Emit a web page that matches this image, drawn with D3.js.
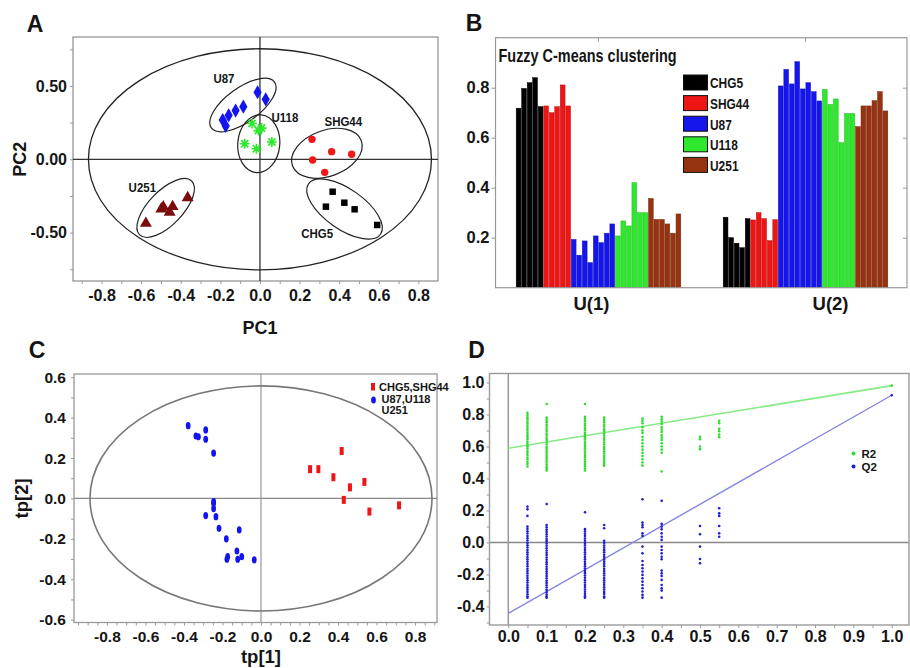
<!DOCTYPE html>
<html><head><meta charset="utf-8">
<script src="https://cdn.jsdelivr.net/npm/d3@7"></script>
<style>
body{margin:0;background:#fff}
svg{display:block}
text{font-family:"Liberation Sans",Arial,Helvetica,sans-serif;font-weight:bold;fill:#151515}
</style>
</head><body>
<svg id="c" width="910" height="668"></svg>
<script>
// ================= DATA =================
// Panel A : PCA scores (PC1, PC2)
const pcaU87   = [[-0.188,0.268],[-0.173,0.227],[-0.158,0.300],[-0.123,0.332],[-0.084,0.359],[-0.012,0.457],[0.029,0.409]];
const pcaU118  = [[-0.040,0.244],[-0.008,0.196],[0.008,0.213],[-0.077,0.106],[-0.018,0.072],[0.060,0.118]];
const pcaSHG44 = [[0.263,0.136],[0.362,0.052],[0.463,0.034],[0.266,-0.005],[0.327,-0.089]];
const pcaCHG5  = [[0.367,-0.221],[0.333,-0.323],[0.426,-0.296],[0.478,-0.341],[0.592,-0.448]];
const pcaU251  = [[-0.576,-0.437],[-0.498,-0.339],[-0.488,-0.325],[-0.456,-0.362],[-0.441,-0.323],[-0.365,-0.262]];
// cluster ellipses: name, centre (PC1,PC2), semi-axes (PC1 units), angle (deg)
const clusterNames   = ["U87","U118","SHG44","CHG5","U251"];
const clusterCentres = [[-0.086,0.370],[-0.006,0.106],[0.338,0.041],[0.427,-0.339],[-0.476,-0.332]];
const clusterAxes    = [[0.197,0.086],[0.146,0.106],[0.185,0.116],[0.222,0.101],[0.189,0.086]];
const clusterAngles  = [-36,-85,-20,35,-46];
const clusterLabelPos= [[-0.182,0.548],[0.126,0.282],[0.421,0.261],[0.289,-0.505],[-0.594,-0.191]];
const pcaHotelling = [0.866,0.754];
const pcaXTicks = [-0.9,-0.8,-0.7,-0.6,-0.5,-0.4,-0.3,-0.2,-0.1,0,0.1,0.2,0.3,0.4,0.5,0.6,0.7,0.8];
const pcaXLabels = [-0.8,-0.6,-0.4,-0.2,0,0.2,0.4,0.6,0.8];
const pcaYTicks = [-0.75,-0.5,-0.25,0,0.25,0.5,0.75];
const pcaYLabels = [-0.5,0,0.5];

// Panel B : fuzzy c-means memberships
const uCategories = ["U(1)","U(2)"];
const fcmGroups = ["CHG5","SHG44","U87","U118","U251"];
const u1CHG5  = [0.718,0.797,0.820,0.840,0.724];
const u2CHG5  = [0.282,0.200,0.178,0.160,0.276];
const u1SHG44 = [0.727,0.700,0.724,0.811,0.727];
const u2SHG44 = [0.271,0.300,0.276,0.188,0.272];
const u1U87   = [0.193,0.130,0.187,0.100,0.207,0.180,0.218,0.255];
const u2U87   = [0.807,0.873,0.815,0.904,0.795,0.820,0.784,0.747];
const u1U118  = [0.207,0.267,0.247,0.420,0.300,0.300];
const u2U118  = [0.793,0.733,0.755,0.580,0.697,0.697];
const u1U251  = [0.357,0.273,0.273,0.255,0.218,0.295];
const u2U251  = [0.644,0.727,0.727,0.748,0.784,0.707];
const fcmYTicks = [0.2,0.4,0.6,0.8];

// Panel C : PLS-DA scores tp[1], tp[2]
const plsRed  = [[0.419,0.235],[0.255,0.145],[0.298,0.145],[0.376,0.105],[0.537,0.082],[0.462,0.055],[0.430,-0.007],[0.563,-0.065],[0.717,-0.034]];
const plsBlue = [[-0.378,0.360],[-0.338,0.309],[-0.325,0.305],[-0.287,0.339],[-0.287,0.293],[-0.246,0.224],[-0.246,-0.016],[-0.246,-0.024],[-0.246,-0.050],[-0.287,-0.085],[-0.234,-0.090],[-0.218,-0.148],[-0.113,-0.156],[-0.180,-0.200],[-0.125,-0.260],[-0.173,-0.288],[-0.177,-0.301],[-0.121,-0.301],[-0.100,-0.288],[-0.035,-0.304]];
const plsHotelling = [0.888,0.557];
const plsLegend = ["CHG5,SHG44","U87,U118","U251"];

// Panel D : permutation test
const permX = [0.05,0.10,0.20,0.25,0.35,0.40,0.50,0.55,1.00];
const r2Cols = [
 [0.810,0.797,0.783,0.770,0.755,0.742,0.728,0.713,0.700,0.686,0.671,0.658,0.644,0.629,0.616,0.601,0.588,0.573,0.560,0.546,0.531,0.518,0.503,0.490,0.475],
 [0.865,0.780,0.766,0.752,0.737,0.724,0.709,0.696,0.681,0.668,0.653,0.640,0.625,0.612,0.597,0.584,0.569,0.556,0.541,0.528,0.513,0.500,0.485,0.472,0.460,0.450],
 [0.865,0.785,0.771,0.757,0.742,0.729,0.714,0.701,0.686,0.673,0.658,0.645,0.630,0.617,0.602,0.589,0.574,0.561,0.546,0.533,0.518,0.505,0.490,0.477,0.462,0.450],
 [0.780,0.766,0.752,0.737,0.724,0.709,0.696,0.681,0.668,0.653,0.640,0.625,0.612,0.597,0.584,0.569,0.556,0.541,0.528,0.513,0.500,0.490,0.480],
 [0.775,0.760,0.745,0.720,0.700,0.685,0.660,0.640,0.620,0.600,0.580,0.560,0.540,0.520,0.500,0.480],
 [0.785,0.770,0.755,0.740,0.720,0.705,0.690,0.670,0.655,0.640,0.620,0.600,0.580,0.560,0.443],
 [0.661,0.645,0.600,0.583],
 [0.761,0.745,0.711,0.695,0.675,0.658],
 [0.980]
];
const q2Cols = [
 [0.224,0.207,0.166,0.099,0.085,0.070,0.056,0.040,0.026,0.012,-0.003,-0.018,-0.032,-0.047,-0.062,-0.076,-0.091,-0.105,-0.120,-0.135,-0.149,-0.164,-0.178,-0.193,-0.208,-0.222,-0.237,-0.251,-0.266,-0.281,-0.295,-0.310,-0.324,-0.338,-0.345],
 [0.240,0.109,0.095,0.080,0.066,0.051,0.037,0.022,0.008,-0.007,-0.021,-0.036,-0.050,-0.065,-0.079,-0.094,-0.108,-0.123,-0.137,-0.152,-0.166,-0.181,-0.195,-0.210,-0.224,-0.239,-0.253,-0.268,-0.282,-0.297,-0.311,-0.326,-0.338,-0.345],
 [0.189,0.083,0.069,0.054,0.040,0.025,0.011,-0.004,-0.018,-0.033,-0.047,-0.062,-0.076,-0.091,-0.105,-0.120,-0.134,-0.149,-0.163,-0.178,-0.192,-0.207,-0.221,-0.236,-0.250,-0.265,-0.279,-0.294,-0.308,-0.323,-0.337,-0.345],
 [0.109,0.089,0.010,-0.004,-0.019,-0.033,-0.048,-0.062,-0.077,-0.091,-0.106,-0.120,-0.135,-0.149,-0.164,-0.178,-0.193,-0.207,-0.222,-0.236,-0.251,-0.265,-0.280,-0.294,-0.309,-0.323,-0.338,-0.345],
 [0.270,0.124,0.109,0.095,0.057,0.041,-0.026,-0.068,-0.116,-0.141,-0.161,-0.182,-0.203,-0.224,-0.245,-0.266,-0.286,-0.307,-0.328,-0.345],
 [0.260,0.116,0.099,0.082,0.057,0.036,0.016,-0.026,-0.047,-0.068,-0.089,-0.105,-0.176,-0.193,-0.209,-0.234,-0.266,-0.286,-0.301,-0.345],
 [0.103,0.051,-0.026,-0.103,-0.130],
 [0.214,0.182,0.166,0.103,0.057,0.036],
 [0.920]
];
const r2Fit = [[0,0.589],[1.0,0.980]];
const q2Fit = [[0,-0.443],[1.0,0.920]];
const permLegend = ["R2","Q2"];

// ================= DRAWING =================
const svg = d3.select("#c");
svg.append("rect").attr("width",910).attr("height",668).attr("fill","#fff");
const fmt1 = v => d3.format(".1f")(v).replace("\u2212","-");
const fmt2 = v => d3.format(".2f")(v).replace("\u2212","-");
const near = (a,b) => Math.abs(a-b) < 1e-6;
function condense(sel, f){
  sel.each(function(){ const w=this.getComputedTextLength(); d3.select(this).attr("textLength", w*f).attr("lengthAdjust","spacingAndGlyphs"); });
}
function styleAxis(g, size, tickColor){
  g.attr("font-family", null).attr("font-size", size);
  g.select(".domain").remove();
  g.selectAll(".tick line").attr("stroke", tickColor || "#999");
}
function letter(t, x, y){
  svg.append("text").attr("x",x).attr("y",y).attr("text-anchor","middle").attr("dominant-baseline","central").attr("font-size",23).text(t);
}

// ---------- Panel A ----------
{
  const L=73,T=37,R=438,B=281;
  const x = d3.scaleLinear().domain([-0.944,0.899]).range([L,R]);
  const y = d3.scaleLinear().domain([-0.830,0.834]).range([B,T]);
  const g = svg.append("g");
  const kx = x(1)-x(0), ky = y(0)-y(1);
  g.append("rect").attr("x",L).attr("y",T).attr("width",R-L).attr("height",B-T).attr("fill","none").attr("stroke","#777").attr("stroke-width",1);
  g.append("line").attr("x1",L).attr("x2",R).attr("y1",y(0)).attr("y2",y(0)).attr("stroke","#333").attr("stroke-width",1.3);
  g.append("line").attr("x1",x(0)).attr("x2",x(0)).attr("y1",T).attr("y2",B).attr("stroke","#333").attr("stroke-width",1.3);
  g.append("ellipse").attr("cx",x(0)).attr("cy",y(0)).attr("rx",pcaHotelling[0]*kx).attr("ry",pcaHotelling[1]*ky).attr("fill","none").attr("stroke","#222").attr("stroke-width",1.3);
  clusterNames.forEach((n,i)=>{
    g.append("ellipse").attr("cx",0).attr("cy",0).attr("rx",clusterAxes[i][0]*kx).attr("ry",clusterAxes[i][1]*kx)
     .attr("transform",`translate(${x(clusterCentres[i][0])},${y(clusterCentres[i][1])}) rotate(${clusterAngles[i]})`)
     .attr("fill","none").attr("stroke","#222").attr("stroke-width",1.2);
    const t = g.append("text").attr("x",x(clusterLabelPos[i][0])).attr("y",y(clusterLabelPos[i][1])).attr("text-anchor","middle").attr("dominant-baseline","central").attr("font-size",13.5).text(n);
    condense(t,0.85);
  });
  const tr = d=>`translate(${x(d[0])},${y(d[1])})`;
  g.selectAll(".u87").data(pcaU87).join("path").attr("d",d3.symbol().type(d3.symbolDiamond).size(58)).attr("transform",tr).attr("fill","#1414f0");
  g.selectAll(".u118").data(pcaU118).join("path").attr("d","M-5,0L5,0M0,-5L0,5M-3.6,-3.6L3.6,3.6M-3.6,3.6L3.6,-3.6").attr("transform",tr).attr("stroke","#2ee82e").attr("stroke-width",1.7).attr("fill","none");
  g.selectAll(".shg").data(pcaSHG44).join("circle").attr("r",3.7).attr("cx",d=>x(d[0])).attr("cy",d=>y(d[1])).attr("fill","#f01818");
  g.selectAll(".chg").data(pcaCHG5).join("path").attr("d",d3.symbol().type(d3.symbolSquare).size(42)).attr("transform",tr).attr("fill","#000");
  g.selectAll(".u251").data(pcaU251).join("path").attr("d",d3.symbol().type(d3.symbolTriangle).size(62)).attr("transform",tr).attr("fill","#7a0c0c");
  const ax = g.append("g").attr("transform",`translate(0,${B})`).call(d3.axisBottom(x).tickValues(pcaXTicks).tickSize(3).tickPadding(6).tickFormat(v=>pcaXLabels.some(l=>near(l,v))?fmt1(v):""));
  styleAxis(ax,16);
  const ay = g.append("g").attr("transform",`translate(${L},0)`).call(d3.axisLeft(y).tickValues(pcaYTicks).tickSize(3).tickPadding(3).tickFormat(v=>pcaYLabels.some(l=>near(l,v))?fmt2(v):""));
  styleAxis(ay,16);
  g.append("text").attr("x",x(0)).attr("y",328).attr("text-anchor","middle").attr("dominant-baseline","central").attr("font-size",18).text("PC1");
  g.append("text").attr("transform",`translate(20,${y(0)}) rotate(-90)`).attr("text-anchor","middle").attr("dominant-baseline","central").attr("font-size",18).text("PC2");
  letter("A",35,24);
}

// ---------- Panel B ----------
{
  const L=495.5,T=37.7,R=907,B=287.7;
  const colors = {CHG5:"#000000",SHG44:"#ee1515",U87:"#1515ee",U118:"#2ee82e",U251:"#973311"};
  const u1 = [u1CHG5,u1SHG44,u1U87,u1U118,u1U251];
  const u2 = [u2CHG5,u2SHG44,u2U87,u2U118,u2U251];
  const samples = [];
  fcmGroups.forEach((gname,gi)=>u1[gi].forEach((v,j)=>samples.push({group:gname, v:[v,u2[gi][j]]})));
  const x = d3.scaleBand().domain(uCategories).range([495.5,908.5]).paddingInner(0.205).paddingOuter(0.1);
  const inner = d3.scaleBand().domain(d3.range(samples.length)).range([0,x.bandwidth()]).paddingInner(0.14);
  const y = d3.scaleLinear().domain([0,1]).range([B,T]);
  const g = svg.append("g");
  uCategories.forEach((c,ci)=>{
    g.selectAll(".b"+ci).data(samples).join("rect")
      .attr("x",(d,i)=>x(c)+inner(i)).attr("width",inner.bandwidth())
      .attr("y",d=>y(d.v[ci])).attr("height",d=>y(0)-y(d.v[ci]))
      .attr("fill",d=>colors[d.group]).attr("stroke",d=>d3.color(colors[d.group]).darker(0.7)).attr("stroke-width",0.5);
  });
  g.append("rect").attr("x",L).attr("y",T).attr("width",R-L).attr("height",B-T).attr("fill","none").attr("stroke","#999").attr("stroke-width",1.2);
  const ay = g.append("g").attr("transform",`translate(${L},0)`).call(d3.axisLeft(y).tickValues(fcmYTicks).tickSize(4).tickPadding(2).tickFormat(fmt1));
  styleAxis(ay,16.5);
  const ar = g.append("g").attr("transform",`translate(${R},0)`).call(d3.axisLeft(y).tickValues(fcmYTicks).tickSize(4).tickFormat(""));
  styleAxis(ar,10);
  const at = g.append("g").attr("transform",`translate(0,${T})`).call(d3.axisBottom(x).tickSize(4).tickFormat(""));
  styleAxis(at,10);
  const labelShift = [-7,25];
  uCategories.forEach((c,ci)=>{
    g.append("text").attr("x",x(c)+x.bandwidth()/2+labelShift[ci]).attr("y",303).attr("text-anchor","middle").attr("dominant-baseline","central").attr("font-size",18.5).text(c);
  });
  const tt = g.append("text").attr("x",498.5).attr("y",61.5).attr("font-size",19).text("Fuzzy C-means clustering");
  condense(tt,0.76);
  const leg = g.append("g");
  fcmGroups.forEach((n,i)=>{
    const yy = 75 + i*20.6;
    leg.append("rect").attr("x",683.5).attr("y",yy).attr("width",24).attr("height",15).attr("fill",colors[n]).attr("stroke","#111").attr("stroke-width",1);
    const t = leg.append("text").attr("x",710).attr("y",yy+7.8).attr("dominant-baseline","central").attr("font-size",15.5).text(n);
    condense(t,0.77);
  });
  letter("B",474,23);
}

// ---------- Panel C ----------
{
  const L=74,T=374,R=437,B=622.5;
  const x = d3.scaleLinear().domain([-0.971,0.914]).range([L,R]);
  const y = d3.scaleLinear().domain([-0.614,0.616]).range([B,T]);
  const g = svg.append("g");
  g.append("rect").attr("x",L).attr("y",T).attr("width",R-L).attr("height",B-T).attr("fill","none").attr("stroke","#999").attr("stroke-width",1.3);
  g.append("line").attr("x1",L).attr("x2",R).attr("y1",y(0)).attr("y2",y(0)).attr("stroke","#888").attr("stroke-width",1.3);
  g.append("line").attr("x1",x(0)).attr("x2",x(0)).attr("y1",T).attr("y2",B).attr("stroke","#999").attr("stroke-width",1.2);
  g.append("ellipse").attr("cx",x(0)).attr("cy",y(0)).attr("rx",x(plsHotelling[0])-x(0)).attr("ry",y(0)-y(plsHotelling[1])).attr("fill","none").attr("stroke","#777").attr("stroke-width",1.6);
  g.selectAll(".r").data(plsRed).join("rect").attr("x",d=>x(d[0])-2).attr("y",d=>y(d[1])-4).attr("width",4).attr("height",8).attr("fill","#ee1515");
  g.selectAll(".bl").data(plsBlue).join("ellipse").attr("cx",d=>x(d[0])).attr("cy",d=>y(d[1])).attr("rx",2.4).attr("ry",3.6).attr("fill","#1414ee");
  const xt = d3.range(-19,19).map(i=>i*0.05).filter(v=>v>=-0.97&&v<=0.91);
  const ax = g.append("g").attr("transform",`translate(0,${B})`).call(d3.axisBottom(x).tickValues(xt).tickSize(3).tickPadding(5).tickFormat(v=>{const k=Math.round(v*100);return (k%20===0&&Math.abs(k)<=80)?fmt1(v):"";}));
  styleAxis(ax,15.5);
  const yt = d3.range(-6,7).map(i=>i*0.1);
  const ay = g.append("g").attr("transform",`translate(${L},0)`).call(d3.axisLeft(y).tickValues(yt).tickSize(3).tickPadding(5).tickFormat(v=>{const k=Math.round(v*10);return k%2===0?fmt1(v):"";}));
  styleAxis(ay,15.5);
  g.append("text").attr("x",x(0)).attr("y",656).attr("text-anchor","middle").attr("dominant-baseline","central").attr("font-size",18.5).text("tp[1]");
  g.append("text").attr("transform",`translate(21,${y(0)}) rotate(-90)`).attr("text-anchor","middle").attr("dominant-baseline","central").attr("font-size",18.5).text("tp[2]");
  // legend
  g.append("rect").attr("x",371).attr("y",383).attr("width",4).attr("height",7.5).attr("fill","#ee1515");
  g.append("ellipse").attr("cx",373.5).attr("cy",400).attr("rx",2.4).attr("ry",3.6).attr("fill","#1414ee");
  const lx=[379,381.5,381.5], ly=[386.5,398.5,410];
  plsLegend.forEach((s,i)=>{
    g.append("text").attr("x",lx[i]).attr("y",ly[i]).attr("dominant-baseline","central").attr("font-size",11).text(s);
  });
  letter("C",37,350);
}

// ---------- Panel D ----------
{
  const L=489.5,T=373.5,R=909,B=625;
  const x = d3.scaleLinear().domain([-0.049,1.045]).range([L,R]);
  const y = d3.scaleLinear().domain([-0.516,1.056]).range([B,T]);
  const g = svg.append("g");
  g.append("line").attr("x1",L).attr("x2",R).attr("y1",y(0)).attr("y2",y(0)).attr("stroke","#888").attr("stroke-width",1.5);
  g.append("line").attr("x1",x(0)).attr("x2",x(0)).attr("y1",T).attr("y2",B).attr("stroke","#999").attr("stroke-width",1.5);
  g.append("path").attr("d",d3.line().x(d=>x(d[0])).y(d=>y(d[1]))(r2Fit)).attr("stroke","#86ea86").attr("stroke-width",1.6).attr("fill","none");
  g.append("path").attr("d",d3.line().x(d=>x(d[0])).y(d=>y(d[1]))(q2Fit)).attr("stroke","#8585e6").attr("stroke-width",1.4).attr("fill","none");
  const r2Pts = [], q2Pts = [];
  permX.forEach((px,i)=>{ r2Cols[i].forEach(v=>r2Pts.push([px,v])); q2Cols[i].forEach(v=>q2Pts.push([px,v])); });
  g.selectAll(".r2").data(r2Pts).join("circle").attr("cx",d=>x(d[0])).attr("cy",d=>y(d[1])).attr("r",1.3).attr("fill","#2fdc2f");
  g.selectAll(".q2").data(q2Pts).join("circle").attr("cx",d=>x(d[0])).attr("cy",d=>y(d[1])).attr("r",1.3).attr("fill","#1f1fd6");
  g.append("rect").attr("x",L).attr("y",T).attr("width",R-L).attr("height",B-T).attr("fill","none").attr("stroke","#9a9a9a").attr("stroke-width",1.4);
  const xt = d3.range(0,21).map(i=>i*0.05);
  const ax = g.append("g").attr("transform",`translate(0,${B})`).call(d3.axisBottom(x).tickValues(xt).tickSize(3).tickPadding(3).tickFormat(v=>{const k=Math.round(v*100);return k%10===0?fmt1(v):"";}));
  styleAxis(ax,16);
  const yt = d3.range(-5,11).map(i=>i*0.1);
  const ay = g.append("g").attr("transform",`translate(${L},0)`).call(d3.axisLeft(y).tickValues(yt).tickSize(3).tickPadding(2).tickFormat(v=>{const k=Math.round(v*10);return (k%2===0&&k>=-4)?fmt1(v):"";}));
  styleAxis(ay,16);
  const legC = ["#2fdc2f","#1f1fd6"];
  permLegend.forEach((s,i)=>{
    g.append("circle").attr("cx",853.5).attr("cy",453.5+i*13).attr("r",2).attr("fill",legC[i]);
    g.append("text").attr("x",861.5).attr("y",453.5+i*13).attr("dominant-baseline","central").attr("font-size",11.5).attr("fill","#222").text(s);
  });
  letter("D",476.5,350);
}
</script>
</body></html>
